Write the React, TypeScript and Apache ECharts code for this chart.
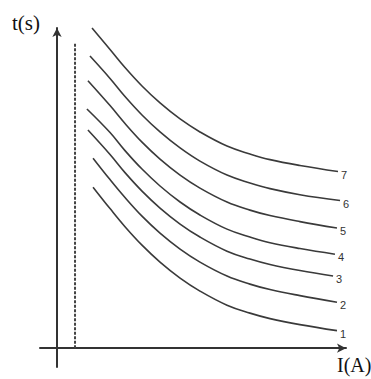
import React, { useEffect, useRef } from "react";
import * as echarts from "echarts";

// Arbitrary units (current I, time t)
const curveNames = ["1", "2", "3", "4", "5", "6", "7"];
const curve1: [number, number][] = [[2.12, 8.55], [3.12, 7.41], [4.0, 6.45], [5.0, 5.47], [6.06, 4.57], [7.24, 3.72], [8.41, 3.03], [10.0, 2.28], [11.35, 1.86], [12.53, 1.57], [14.29, 1.25], [16.47, 0.93]];
const curve2: [number, number][] = [[2.12, 10.09], [3.12, 8.95], [4.0, 8.0], [5.0, 7.01], [6.06, 6.11], [7.24, 5.26], [8.41, 4.57], [10.0, 3.83], [11.35, 3.4], [12.53, 3.11], [14.29, 2.79], [16.47, 2.44]];
const curve3: [number, number][] = [[1.82, 11.58], [3.12, 10.28], [4.0, 9.32], [5.0, 8.34], [6.06, 7.44], [7.24, 6.59], [8.41, 5.9], [10.0, 5.15], [11.35, 4.73], [12.53, 4.44], [14.29, 4.12], [16.24, 3.83]];
const curve4: [number, number][] = [[1.76, 12.7], [3.12, 11.45], [4.0, 10.49], [5.0, 9.51], [6.06, 8.61], [7.24, 7.76], [8.41, 7.07], [10.0, 6.32], [11.35, 5.9], [12.53, 5.6], [14.29, 5.29], [16.35, 4.99]];
const curve5: [number, number][] = [[1.82, 14.2], [3.12, 12.88], [4.0, 11.93], [5.0, 10.94], [6.06, 10.04], [7.24, 9.19], [8.41, 8.5], [10.0, 7.76], [11.35, 7.33], [12.53, 7.04], [14.29, 6.72], [16.47, 6.38]];
const curve6: [number, number][] = [[1.94, 15.51], [3.12, 14.32], [4.0, 13.36], [5.0, 12.38], [6.06, 11.48], [7.24, 10.63], [8.41, 9.93], [10.0, 9.19], [11.35, 8.77], [12.53, 8.47], [14.29, 8.15], [16.65, 7.84]];
const curve7: [number, number][] = [[2.06, 17.0], [3.12, 15.86], [4.0, 14.9], [5.0, 13.92], [6.06, 13.02], [7.24, 12.17], [8.41, 11.48], [10.0, 10.73], [11.35, 10.31], [12.53, 10.01], [14.29, 9.7], [16.53, 9.38]];
const curves = [curve1, curve2, curve3, curve4, curve5, curve6, curve7];
const dashedLine: [number, number][] = [[1.06, 0], [1.06, 16.2]];
const xAxisName = "I(A)";
const yAxisName = "t(s)";

export default function App() {
  const ref = useRef<HTMLDivElement>(null);
  useEffect(() => {
    if (!ref.current) return;
    const chart = echarts.init(ref.current, null, { renderer: "svg" });
    const lineColor = "#3a3a3a";
    chart.setOption({
      animation: false,
      backgroundColor: "#ffffff",
      grid: { left: 40, top: 28, width: 306, height: 339, containLabel: false },
      xAxis: {
        type: "value",
        min: -1,
        max: 17,
        axisLine: {
          show: true,
          onZero: true,
          symbol: ["none", "arrow"],
          symbolSize: [7, 9],
          lineStyle: { color: "#333", width: 2 },
        },
        axisTick: { show: false },
        axisLabel: { show: false },
        splitLine: { show: false },
      },
      yAxis: {
        type: "value",
        min: -1,
        max: 17,
        axisLine: {
          show: true,
          onZero: true,
          symbol: ["none", "arrow"],
          symbolSize: [7, 9],
          lineStyle: { color: "#333", width: 2 },
        },
        axisTick: { show: false },
        axisLabel: { show: false },
        splitLine: { show: false },
      },
      graphic: [
        {
          type: "text",
          left: 12,
          top: 12,
          style: { text: yAxisName, font: "21px 'Liberation Serif', serif", fill: "#111" },
        },
        {
          type: "text",
          left: 337,
          top: 355,
          style: { text: xAxisName, font: "20px 'Liberation Serif', serif", fill: "#111" },
        },
      ],
      series: [
        ...curves.map((c, i) => ({
          type: "line",
          name: curveNames[i],
          data: c,
          smooth: 0.4,
          clip: false,
          showSymbol: false,
          lineStyle: { color: lineColor, width: 1.6 },
          endLabel: {
            show: true,
            formatter: "{a}",
            distance: 3,
            offset: [0, 3],
            color: "#333",
            fontSize: 11,
            fontFamily: "'Liberation Sans', Arial, sans-serif",
          },
        })),
        {
          type: "line",
          name: "limit",
          data: dashedLine,
          showSymbol: false,
          clip: false,
          lineStyle: { color: "#444", width: 2, type: [3, 1.5] },
        },
      ],
    });
    return () => chart.dispose();
  }, []);
  return (
    <div
      ref={ref}
      style={{ position: "fixed", left: 0, top: 0, width: 371, height: 379, background: "#fff" }}
    />
  );
}
